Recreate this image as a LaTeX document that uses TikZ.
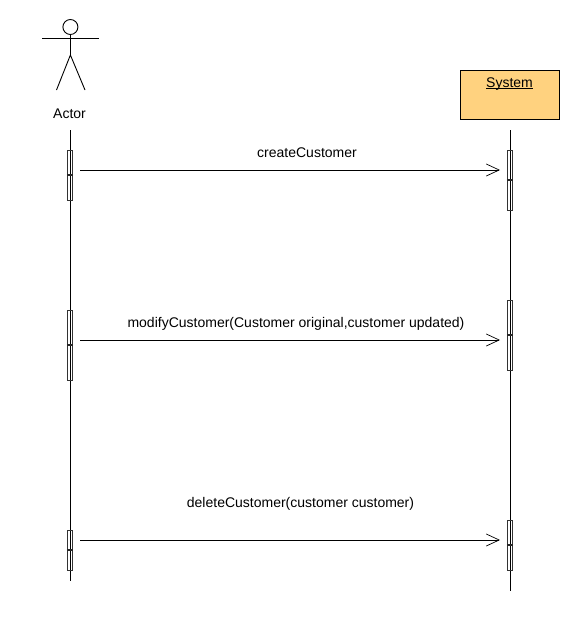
\documentclass[tikz,border=0pt]{standalone}
\usepackage{fontspec}
\setmainfont{Liberation Sans}
\usetikzlibrary{arrows.meta}
\definecolor{sysfill}{HTML}{FFD27F}
\tikzset{
  x=1pt,y=-1pt,
  every node/.style={font=\fontsize{14}{16}\selectfont,text=black},
  lifeline/.style={draw=black,line width=1pt},
  actorline/.style={draw=black,line width=0.9pt},
  bar/.style={draw=black!80,line width=1pt,inner sep=0pt,minimum width=5.4pt},
  barmid/.style={draw=black!85,line width=1.2pt},
  msg/.style={draw=black,line width=0.9pt,-{Straight Barb[length=13pt,width=12pt,angle'=50,line width=0.7pt]}},
  sysbox/.style={draw=black,fill=sysfill,line width=1pt,minimum width=99pt,minimum height=49pt,inner sep=0pt},
  label/.style={inner sep=0pt,anchor=base}
}
\begin{document}
\begin{tikzpicture}
\useasboundingbox (0,0) rectangle (580,630);
% Actor
\node[circle,draw=black,line width=0.9pt,minimum size=15pt,inner sep=0pt,fill=white] (head) at (70.4,27) {};
\coordinate (armL) at (42,38.5);
\coordinate (armR) at (98.8,38.5);
\coordinate (hip) at (70.4,55);
\coordinate (footL) at (56.5,90);
\coordinate (footR) at (85,90);
\draw[actorline] (head.south) -- (hip);
\draw[actorline] (armL) -- (armR);
\draw[actorline] (footL) -- (hip) -- (footR);
\node[label] (actor) at (69.5,118) {Actor};
% System
\node[sysbox] (sys) at (510,95) {};
\node[label] (systxt) at (509.5,87) {\underline{\smash{System}}};
% Lifelines
\coordinate (lA0) at (70.5,130);
\coordinate (lA1) at (70.5,581);
\coordinate (lS0) at (510.5,130);
\coordinate (lS1) at (510.5,591);
\draw[lifeline] (lA0) -- (lA1);
\draw[lifeline] (lS0) -- (lS1);
% Activation bars
\node[bar,minimum height=50pt] (a1) at (70,175) {};
\node[bar,minimum height=70pt] (a2) at (70,345) {};
\node[bar,minimum height=40pt] (a3) at (70,550) {};
\node[bar,minimum height=60pt] (s1) at (510,180) {};
\node[bar,minimum height=70pt] (s2) at (510,335) {};
\node[bar,minimum height=50pt] (s3) at (510,545) {};
\foreach \n in {a1,a2,a3,s1,s2,s3}{
  \draw[barmid] (\n.west) -- (\n.east);
}
% Messages
\coordinate (m1a) at (80,170);
\coordinate (m1b) at (500,170);
\coordinate (m2a) at (80,340);
\coordinate (m2b) at (500,340);
\coordinate (m3a) at (80,540);
\coordinate (m3b) at (500,540);
\draw[msg] (m1a) -- (m1b);
\draw[msg] (m2a) -- (m2b);
\draw[msg] (m3a) -- (m3b);
\node[label] (t1) at (307,157) {createCustomer};
\node[label] (t2) at (296,327) {modifyCustomer(Customer original,customer updated)};
\node[label] (t3) at (300.5,507) {deleteCustomer(customer customer)};
\end{tikzpicture}
\end{document}
